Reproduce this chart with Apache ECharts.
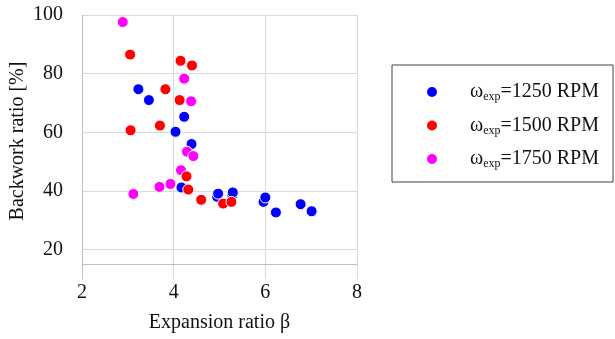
<!DOCTYPE html>
<html>
<head>
<meta charset="utf-8">
<script src="https://cdn.jsdelivr.net/npm/echarts@6/dist/echarts.min.js"></script>
<style>
  html, body { margin: 0; padding: 0; background: #fff; }
  #chart { width: 615px; height: 339px; }
</style>
</head>
<body>
<div id="chart"></div>
<script>
// [expansion ratio, backwork ratio %]
const rpm1250 = [
  [3.23, 74.7], [3.46, 71.0], [4.23, 65.3], [4.04, 60.2], [4.39, 56.0],
  [4.17, 41.2], [4.95, 38.0], [4.97, 39.1], [5.28, 38.6], [5.29, 39.5],
  [5.96, 36.3], [6.0, 37.8], [6.23, 32.7], [6.77, 35.5], [7.01, 33.1]
];
const rpm1500 = [
  [3.05, 86.5], [4.15, 84.4], [4.40, 82.8], [3.82, 74.7], [4.13, 71.0],
  [3.06, 60.7], [3.70, 62.3], [4.28, 45.0], [4.32, 40.5], [4.60, 37.0],
  [5.08, 35.7], [5.26, 36.3]
];
const rpm1750 = [
  [2.89, 97.6], [4.23, 78.3], [4.38, 70.6], [4.29, 53.4], [4.43, 51.9],
  [4.16, 47.1], [3.12, 39.0], [3.69, 41.4], [3.93, 42.4]
];
const seriesNames = ['1250', '1500', '1750'];
const seriesColors = ['#0000ff', '#ff0000', '#ff00ff'];

const font = "'Liberation Serif', 'Times New Roman', serif";
const chart = echarts.init(document.getElementById('chart'));

function pointSeries(name, data, color, z) {
  return {
    name: name,
    type: 'scatter',
    data: data,
    z: z,
    symbolSize: 11,
    itemStyle: { color: color, borderColor: '#fff', borderWidth: 1, opacity: 1 }
  };
}

chart.setOption({
  animation: false,
  textStyle: { fontFamily: font },
  grid: { left: 82, right: 258, top: 15, bottom: 60 },
  xAxis: {
    type: 'value', min: 2, max: 8, interval: 2,
    axisLine: { show: false },
    axisTick: { show: false },
    axisLabel: { fontSize: 20, color: '#111', margin: 4, fontFamily: font },
    splitLine: { show: true, lineStyle: { color: '#d9d9d9', width: 1 } },
    name: 'Expansion ratio β',
    nameLocation: 'middle',
    nameGap: 34,
    nameTextStyle: { fontSize: 20, color: '#111', fontFamily: font }
  },
  yAxis: {
    type: 'value', min: 10, max: 100, interval: 10,
    axisLine: { show: true, lineStyle: { color: '#bfbfbf' } },
    axisTick: { show: false },
    axisLabel: {
      fontSize: 20, color: '#111', margin: 19, fontFamily: font,
      formatter: v => (v % 20 === 0 ? String(v) : '')
    },
    splitLine: { show: true, lineStyle: { color: ['rgba(0,0,0,0)', '#d9d9d9'], width: 1 } },
    name: 'Backwork ratio [%]',
    nameLocation: 'middle',
    nameGap: 54,
    nameTextStyle: { fontSize: 20, color: '#111', fontFamily: font, padding: [0, 0, 0, 12] }
  },
  legend: {
    orient: 'vertical',
    left: 392, top: 65,
    data: seriesNames,
    icon: 'circle',
    itemWidth: 66, itemHeight: 12,
    itemGap: 12.5,
    padding: [17, 14, 12, 33],
    borderColor: '#404040', borderWidth: 1,
    formatter: n => '{w|ω}{s|exp}{t|=' + n + ' RPM}',
    textStyle: {
      fontFamily: font, color: '#111',
      rich: {
        w: { fontSize: 20, lineHeight: 22, fontFamily: font },
        s: { fontSize: 12, lineHeight: 12, verticalAlign: 'bottom', fontFamily: font },
        t: { fontSize: 20, lineHeight: 22, fontFamily: font }
      }
    }
  },
  series: [
    Object.assign(pointSeries(seriesNames[0], rpm1250, seriesColors[0], 2), {
      markLine: {
        silent: true, symbol: 'none', label: { show: false },
        lineStyle: { color: '#bfbfbf', type: 'solid', width: 1 },
        data: [{ yAxis: 15 }]
      }
    }),
    pointSeries(seriesNames[2], rpm1750, seriesColors[2], 3),
    pointSeries(seriesNames[1], rpm1500, seriesColors[1], 4)
  ]
});
</script>
</body>
</html>
